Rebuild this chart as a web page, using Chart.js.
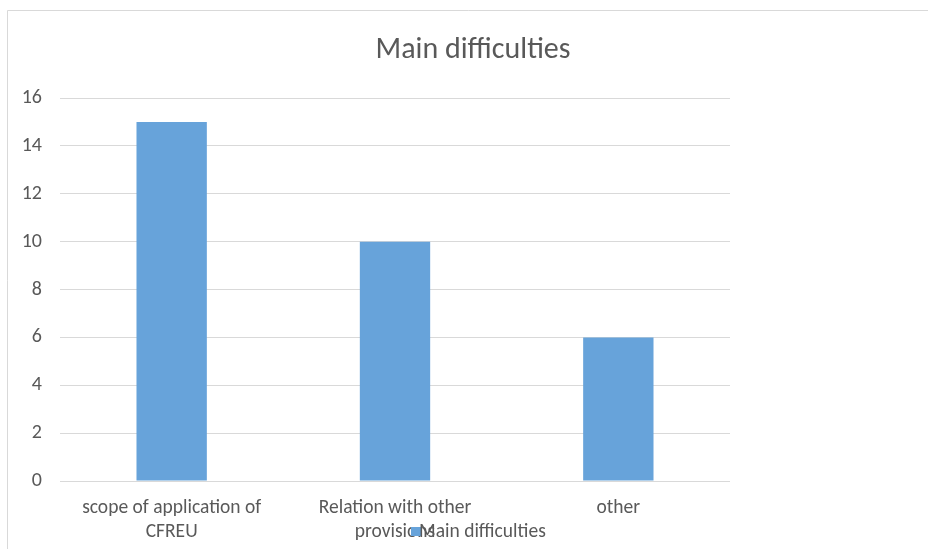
<!DOCTYPE html>
<html>
<head>
<meta charset="utf-8">
<script src="https://cdn.jsdelivr.net/npm/chart.js@4"></script>
<style>
  html, body { margin: 0; padding: 0; background: #fff; overflow: hidden; }
  #wrap { position: absolute; left: 0; top: 0; width: 928px; height: 549px; }
</style>
</head>
<body>
<div id="wrap"><canvas id="c" width="928" height="549"></canvas></div>
<script>
// Survey answers: what respondents found hardest
const categories = [["scope of application of", "CFREU"], ["Relation with other", "provisions"], "other"];
const seriesName = "Main difficulties";
const counts = [15, 10, 6];
const yTicks = [0, 2, 4, 6, 8, 10, 12, 14, 16];

const FONT = "Carlito, 'Liberation Sans', Arial, sans-serif";
const TEXT = "#595959";
const BAR = "#67a3da";

// Frame around the chart and hand-placed title / legend
const decor = {
  id: "decor",
  beforeDraw(chart) {
    const ctx = chart.ctx;
    ctx.save();
    ctx.fillStyle = "#fff";
    ctx.fillRect(0, 0, chart.width, chart.height);
    ctx.strokeStyle = "#d9d9d9";
    ctx.lineWidth = 1;
    ctx.beginPath();
    ctx.moveTo(7.5, 560);
    ctx.lineTo(7.5, 10.5);
    ctx.lineTo(940, 10.5);
    ctx.stroke();
    ctx.restore();
  },
  afterDraw(chart) {
    const ctx = chart.ctx;
    ctx.save();
    ctx.fillStyle = TEXT;
    ctx.font = "30px " + FONT;
    ctx.textAlign = "center";
    ctx.textBaseline = "middle";
    ctx.fillText(chart.options.plugins.title.text, 473, 50);
    // legend entry
    ctx.fillStyle = BAR;
    ctx.fillRect(411, 527, 10, 9);
    ctx.fillStyle = TEXT;
    ctx.font = "19.5px " + FONT;
    ctx.textAlign = "left";
    ctx.fillText(chart.data.datasets[0].label, 419, 532);
    ctx.restore();
  }
};

new Chart(document.getElementById("c"), {
  type: "bar",
  data: {
    labels: categories,
    datasets: [{
      label: seriesName,
      data: counts,
      backgroundColor: BAR,
      borderWidth: 0,
      categoryPercentage: 1,
      barPercentage: 0.315
    }]
  },
  options: {
    responsive: false,
    animation: false,
    devicePixelRatio: 1,
    layout: { padding: { left: 0, right: 198, top: 98, bottom: 0 } },
    plugins: {
      legend: { display: false },
      tooltip: { enabled: false },
      title: { display: false, text: "Main difficulties" }
    },
    scales: {
      x: {
        grid: { display: false, drawTicks: false },
        border: { display: false },
        ticks: {
          color: TEXT,
          font: { family: FONT, size: 19.5, lineHeight: 1.23 },
          padding: 15,
          maxRotation: 0,
          autoSkip: false
        },
        afterFit(s) { s.height = 68; }
      },
      y: {
        min: 0,
        max: 16,
        afterBuildTicks(s) { s.ticks = yTicks.map(v => ({ value: v })); },
        grid: { color: "#d9d9d9", lineWidth: 1, drawTicks: false },
        border: { display: false },
        ticks: {
          color: TEXT,
          font: { family: FONT, size: 20 },
          padding: 18
        },
        afterFit(s) { s.width = 60; }
      }
    }
  },
  plugins: [decor]
});
</script>
</body>
</html>
